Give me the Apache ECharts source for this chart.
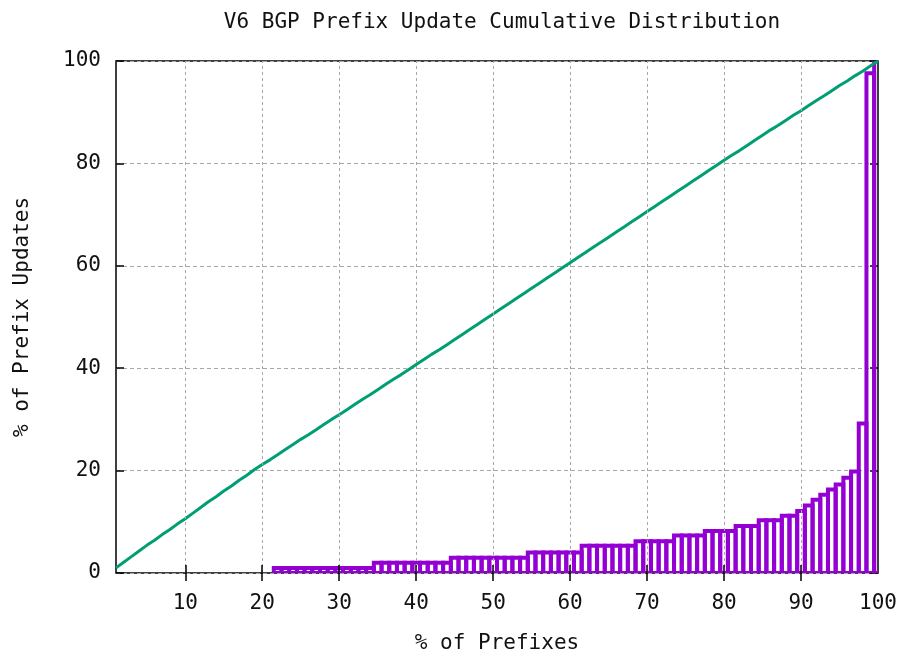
<!DOCTYPE html>
<html>
<head>
<meta charset="utf-8">
<title>V6 BGP Prefix Update Cumulative Distribution</title>
<script src="https://cdn.jsdelivr.net/npm/echarts@6/dist/echarts.min.js"></script>
<style>
html, body { margin: 0; padding: 0; background: #fff; }
#chart { width: 905px; height: 656px; }
</style>
</head>
<body>
<div id="chart"></div>
<script>
// green curve: % of prefixes -> % of prefix updates
var linePrefixPct = [
  1, 2, 3, 4, 5, 6, 7, 8, 9, 10,
  11, 12, 13, 14, 15, 16, 17, 18, 19, 20,
  21, 22, 23, 24, 25, 26, 27, 28, 29, 30,
  31, 32, 33, 34, 35, 36, 37, 38, 39, 40,
  41, 42, 43, 44, 45, 46, 47, 48, 49, 50,
  51, 52, 53, 54, 55, 56, 57, 58, 59, 60,
  61, 62, 63, 64, 65, 66, 67, 68, 69, 70,
  71, 72, 73, 74, 75, 76, 77, 78, 79, 80,
  81, 82, 83, 84, 85, 86, 87, 88, 89, 90,
  91, 92, 93, 94, 95, 96, 97, 98, 99, 100
]
var lineUpdatePct = [
  1.0, 2.1, 3.2, 4.3, 5.4, 6.4, 7.5, 8.5, 9.6, 10.6,
  11.7, 12.8, 13.9, 14.9, 16.0, 17.0, 18.1, 19.1, 20.2, 21.2,
  22.1, 23.1, 24.1, 25.1, 26.1, 27.0, 28.0, 29.0, 30.0, 30.9,
  31.9, 32.9, 33.9, 34.8, 35.8, 36.8, 37.8, 38.7, 39.7, 40.7,
  41.7, 42.7, 43.6, 44.6, 45.6, 46.6, 47.6, 48.6, 49.6, 50.6,
  51.6, 52.6, 53.6, 54.6, 55.6, 56.6, 57.6, 58.6, 59.6, 60.6,
  61.6, 62.6, 63.6, 64.6, 65.6, 66.6, 67.6, 68.6, 69.6, 70.6,
  71.6, 72.6, 73.6, 74.6, 75.6, 76.6, 77.6, 78.6, 79.6, 80.6,
  81.6, 82.5, 83.5, 84.5, 85.5, 86.5, 87.4, 88.4, 89.4, 90.3,
  91.3, 92.3, 93.2, 94.2, 95.2, 96.1, 97.1, 98.0, 99.0, 100.0
]

// purple boxes
var barPrefixPct = [
  22, 23, 24, 25, 26, 27, 28, 29, 30, 31, 32, 33, 34,
  35, 36, 37, 38, 39, 40, 41, 42, 43, 44,
  45, 46, 47, 48, 49, 50, 51, 52, 53, 54,
  55, 56, 57, 58, 59, 60, 61,
  62, 63, 64, 65, 66, 67, 68,
  69, 70, 71, 72, 73,
  74, 75, 76, 77,
  78, 79, 80, 81,
  82, 83, 84,
  85, 86, 87,
  88, 89,
  90,
  91, 92, 93, 94, 95, 96, 97, 98, 99, 100
]
var barUpdatePct = [
  1, 1, 1, 1, 1, 1, 1, 1, 1, 1, 1, 1, 1,
  2, 2, 2, 2, 2, 2, 2, 2, 2, 2,
  3, 3, 3, 3, 3, 3, 3, 3, 3, 3,
  4, 4, 4, 4, 4, 4, 4,
  5.3, 5.3, 5.3, 5.3, 5.3, 5.3, 5.3,
  6.2, 6.2, 6.2, 6.2, 6.2,
  7.3, 7.3, 7.3, 7.3,
  8.2, 8.2, 8.2, 8.2,
  9.2, 9.2, 9.2,
  10.3, 10.3, 10.3,
  11.2, 11.2,
  12.1,
  13.2, 14.3, 15.3, 16.3, 17.3, 18.6, 19.8, 29.2, 97.6, 100
]

var xTickLabels = [10, 20, 30, 40, 50, 60, 70, 80, 90, 100]
var xGridValues = [10, 20, 30, 40, 50, 60, 70, 80, 90]

var font = 'DejaVu Sans Mono'
var textColor = '#111'

var lineData = linePrefixPct.map(function (x, i) { return [x, lineUpdatePct[i]] })
var barData = barPrefixPct.map(function (x, i) { return [x, barUpdatePct[i]] })

var chart = echarts.init(document.getElementById('chart'))
chart.setOption({
  animation: false,
  backgroundColor: '#fff',
  title: {
    text: 'V6 BGP Prefix Update Cumulative Distribution',
    left: 497,
    top: 7,
    textAlign: 'center',
    textStyle: { fontFamily: font, fontSize: 21, fontWeight: 'normal', color: textColor }
  },
  grid: {
    left: 116, top: 61, right: 27, bottom: 83,
    show: true, borderColor: '#000', borderWidth: 1.5,
    containLabel: false,
    outerBoundsMode: 'none'
  },
  xAxis: [
    {
      type: 'value', min: 1, max: 100, position: 'bottom', z: 5,
      name: '% of Prefixes', nameLocation: 'middle', nameGap: 60,
      nameTextStyle: { fontFamily: font, fontSize: 21, color: textColor },
      axisLine: { show: false },
      axisTick: { inside: true, length: 8, customValues: xGridValues, lineStyle: { color: '#000', width: 1.5 } },
      axisLabel: { customValues: xTickLabels, margin: 20, fontFamily: font, fontSize: 21, color: textColor },
      splitLine: { show: false }
    },
    {
      type: 'value', min: 1, max: 100, position: 'top', z: 5,
      axisLine: { show: false },
      axisTick: { inside: true, length: 8, customValues: xGridValues, lineStyle: { color: '#000', width: 1.5 } },
      axisLabel: { show: false },
      splitLine: { show: false }
    }
  ],
  yAxis: [
    {
      type: 'value', min: 0, max: 100, interval: 20, position: 'left',
      name: '% of Prefix Updates', nameLocation: 'middle', nameGap: 83, nameRotate: 90,
      nameTextStyle: { fontFamily: font, fontSize: 21, color: textColor },
      axisLine: { show: false },
      axisTick: { inside: true, length: 8, lineStyle: { color: '#000', width: 1.5 } },
      axisLabel: { margin: 15, fontFamily: font, fontSize: 21, color: textColor },
      splitLine: { show: true, lineStyle: { color: '#a8a8a8', width: 1, type: [4, 3] } }
    },
    {
      type: 'value', min: 0, max: 100, interval: 20, position: 'right',
      axisLine: { show: false },
      axisTick: { inside: true, length: 8, lineStyle: { color: '#000', width: 1.5 } },
      axisLabel: { show: false },
      splitLine: { show: false }
    }
  ],
  series: [
    {
      // vertical grid lines only
      type: 'line',
      data: [],
      z: 1,
      silent: true,
      markLine: {
        silent: true,
        symbol: 'none',
        label: { show: false },
        lineStyle: { color: '#a8a8a8', width: 1, type: [3, 3] },
        data: xGridValues.map(function (v) { return { xAxis: v } })
      }
    },
    {
      name: 'updates',
      type: 'custom',
      clip: true,
      z: 2,
      data: barData,
      encode: { x: 0, y: 1 },
      renderItem: function (params, api) {
        var x = api.value(0)
        var y = api.value(1)
        var p1 = api.coord([x - 0.5, y])
        var p2 = api.coord([x + 0.5, 0])
        return {
          type: 'rect',
          shape: { x: p1[0], y: p1[1], width: p2[0] - p1[0], height: p2[1] - p1[1] },
          style: { fill: 'none', stroke: '#9400d3', lineWidth: 4 }
        }
      }
    },
    {
      name: 'cumulative',
      type: 'line',
      z: 3,
      data: lineData,
      showSymbol: false,
      symbol: 'none',
      lineStyle: { color: '#009e73', width: 3 }
    }
  ]
})
</script>
</body>
</html>
